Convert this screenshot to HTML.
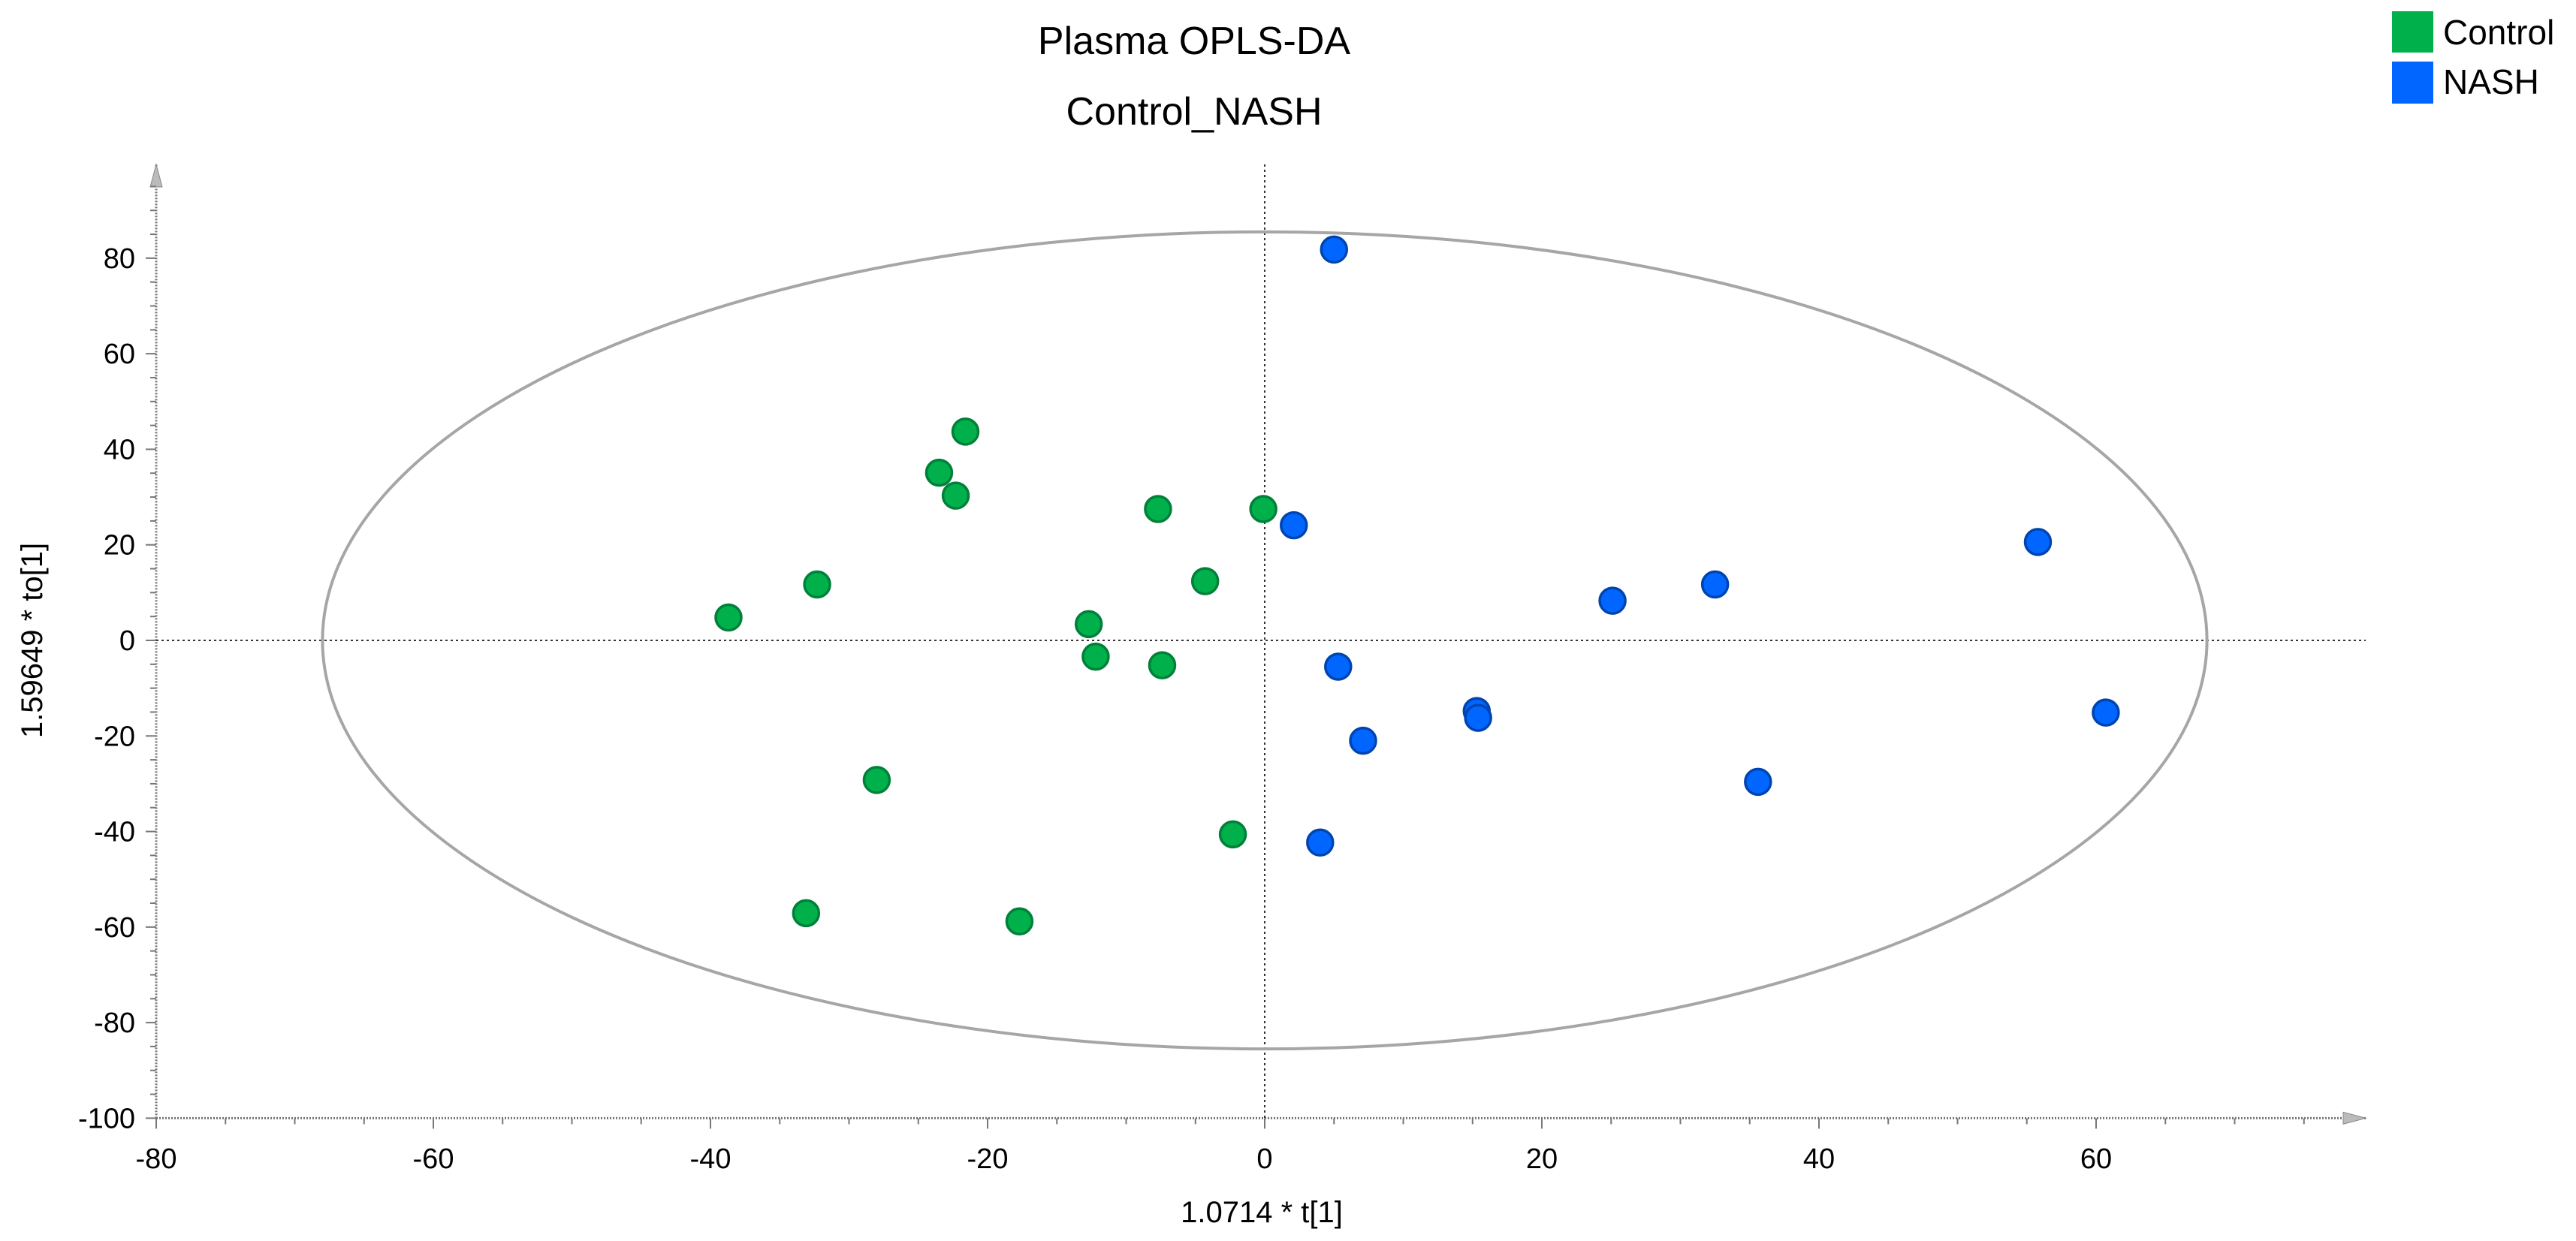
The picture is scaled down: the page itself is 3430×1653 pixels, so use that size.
<!DOCTYPE html>
<html><head><meta charset="utf-8"><style>
html,body{margin:0;padding:0;background:#fff;}
svg{display:block;font-family:"Liberation Sans",sans-serif;}
</style></head><body>
<svg id="chart" width="3430" height="1653" viewBox="0 0 3430 1653" xmlns="http://www.w3.org/2000/svg">
<text x="1590" y="72" font-size="52" text-anchor="middle">Plasma OPLS-DA</text>
<text x="1590" y="166" font-size="52" text-anchor="middle">Control_NASH</text>
<g>
<rect x="3185" y="15" width="55" height="55" fill="#00b04a"/>
<text x="3253" y="59" font-size="46">Control</text>
<rect x="3185" y="82" width="55" height="56" fill="#0066ff"/>
<text x="3253" y="125" font-size="46">NASH</text>
</g>
<text x="1680" y="1628" font-size="40" text-anchor="middle">1.0714 * t[1]</text>
<text x="0" y="0" font-size="40" text-anchor="middle" transform="translate(56,853) rotate(-90)">1.59649 * to[1]</text>
<g id="axes"></g>
<g id="marks"></g>
</svg>
<script>
const xTicks = [-80,-60,-40,-20,0,20,40,60];
const yTicks = [80,60,40,20,0,-20,-40,-60,-80,-100];
const controlX = [-38.7,-32.3,-23.5,-21.6,-22.3,-28.0,-33.1,-17.7,-12.7,-12.2,-7.7,-7.4,-4.3,-0.1,-2.3];
const controlY = [4.8,11.7,35.1,43.7,30.3,-29.2,-57.1,-58.8,3.4,-3.4,27.5,-5.2,12.4,27.5,-40.6];
const nashX = [5.0,2.1,5.3,7.1,15.3,15.4,4.0,25.1,32.5,35.6,55.8,60.7];
const nashY = [81.8,24.1,-5.5,-21.0,-14.8,-16.2,-42.3,8.3,11.7,-29.6,20.6,-15.1];
const ellipseRx = 68, ellipseRy = 85.5;

const X = v => 1684 + 18.45 * v;
const Y = v => 853 - 6.364 * v;
const NS = "http://www.w3.org/2000/svg";
function mk(tag, attrs, parent){const e=document.createElementNS(NS,tag);for(const k in attrs)e.setAttribute(k,attrs[k]);parent.appendChild(e);return e;}
const axes = document.getElementById('axes');
const marks = document.getElementById('marks');
const x0 = X(-80), x1 = 3150, yB = Y(-100), yT = 219;

let a = mk('line',{x1:x0,y1:yB,x2:x1,y2:yB,stroke:'#777','stroke-width':3,'stroke-dasharray':'2 2'},axes);


a = mk('line',{x1:x0,y1:yB,x2:x0,y2:yT,stroke:'#777','stroke-width':3,'stroke-dasharray':'2 2'},axes);


a = mk('path',{d:`M${x1-30},${yB-8} L${x1},${yB} L${x1-30},${yB+8} Z`,fill:'#bbb',stroke:'#888'},axes);


a = mk('path',{d:`M${x0-8},${yT+30} L${x0},${yT} L${x0+8},${yT+30} Z`,fill:'#bbb',stroke:'#888'},axes);



for(let v=-80; v<=75; v+=5){
  const t = mk('line',{x1:X(v),y1:yB,x2:X(v),y2:yB+(v%20===0?14:8),stroke:'#777','stroke-width':2},axes);
  
  
}
for(let v=-100; v<=95; v+=5){
  const t = mk('line',{x1:x0-(v%20===0?14:8),y1:Y(v),x2:x0,y2:Y(v),stroke:'#777','stroke-width':2},axes);
  
  
}
xTicks.forEach(v=>{
  const t = mk('text',{x:X(v),y:1556,'font-size':38,'text-anchor':'middle'},axes);
  t.textContent = v;
  
  
});
yTicks.forEach(v=>{
  const t = mk('text',{x:180,y:Y(v)+13,'font-size':38,'text-anchor':'end'},axes);
  t.textContent = v;
  
  
});
a = mk('line',{x1:X(0),y1:yT,x2:X(0),y2:yB,stroke:'#333','stroke-width':2,'stroke-dasharray':'3 4'},axes);


a = mk('line',{x1:x0,y1:Y(0),x2:x1,y2:Y(0),stroke:'#333','stroke-width':2,'stroke-dasharray':'3 4'},axes);


a = mk('ellipse',{cx:X(0),cy:Y(0),rx:X(ellipseRx)-X(0),ry:Y(0)-Y(ellipseRy),fill:'none',stroke:'#a6a6a6','stroke-width':4},axes);



controlX.forEach((v,i)=>{
  const c = mk('circle',{cx:X(v),cy:Y(controlY[i]),r:17,fill:'#00b04a',stroke:'#00803a','stroke-width':3.5},marks);
  
  
});
nashX.forEach((v,i)=>{
  const c = mk('circle',{cx:X(v),cy:Y(nashY[i]),r:17,fill:'#0066ff',stroke:'#0044b0','stroke-width':3.5},marks);
  
  
});
</script>
</body></html>
